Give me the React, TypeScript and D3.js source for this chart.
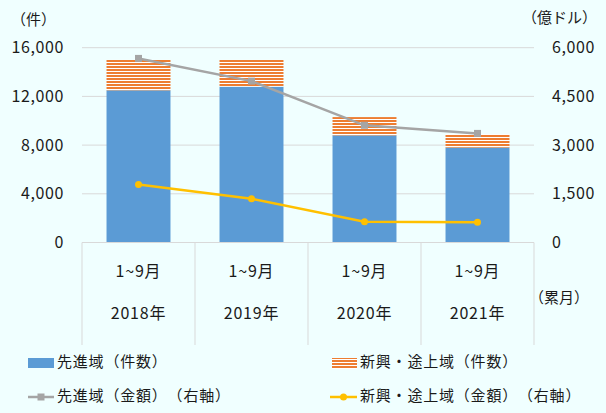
import React, { useEffect, useRef } from 'react';
import * as d3 from 'd3';

const categories = ['2018年', '2019年', '2020年', '2021年'];
const periodLabel = '1~9月';
const advancedCount = [12500, 12800, 8800, 7800];
const emergingCount = [2500, 2200, 1500, 1100];
const advancedAmount = [5670, 4970, 3610, 3360];
const emergingAmount = [1790, 1350, 640, 620];
const leftTicks = [0, 4000, 8000, 12000, 16000];
const rightTicks = [0, 1500, 3000, 4500, 6000];

const App: React.FC = () => {
  const svgRef = useRef<SVGSVGElement>(null);

  useEffect(() => {
    if (!svgRef.current) return;
    const svg = d3.select(svgRef.current);
    svg.selectAll('*').remove();

    const width = 606;
    const height = 413;
    const plot = { left: 82, right: 534, top: 47.7, bottom: 242.5 };
    const font = "'Noto Sans CJK JP', 'Noto Sans', sans-serif";
    const textColor = '#1a1a1a';
    const gridColor = '#d9d9d9';
    const blue = '#5b9bd5';
    const orange = '#ed7d31';
    const gray = '#a5a5a5';
    const yellow = '#ffc000';

    svg.append('rect').attr('width', width).attr('height', height).attr('fill', '#f0ffff');

    // striped fill for emerging markets
    const defs = svg.append('defs');
    const pat = defs.append('pattern')
      .attr('id', 'stripes')
      .attr('patternUnits', 'userSpaceOnUse')
      .attr('width', 6).attr('height', 3);
    pat.append('rect').attr('width', 6).attr('height', 3).attr('fill', '#ffffff');
    pat.append('rect').attr('width', 6).attr('height', 2).attr('fill', orange);

    const x = d3.scaleBand<string>().domain(categories).range([plot.left, plot.right]).paddingInner(0.434).paddingOuter(0.217);
    const xc = (c: string) => (x(c) || 0) + x.bandwidth() / 2;
    const yL = d3.scaleLinear().domain([0, 16000]).range([plot.bottom, plot.top]);
    const yR = d3.scaleLinear().domain([0, 6000]).range([plot.bottom, plot.top]);
    const fmt = d3.format(',');

    // gridlines
    svg.append('g').selectAll('line').data(leftTicks.slice(1)).enter().append('line')
      .attr('x1', plot.left).attr('x2', plot.right)
      .attr('y1', d => yL(d)).attr('y2', d => yL(d))
      .attr('stroke', gridColor).attr('stroke-width', 1);

    // left axis labels
    svg.append('g').selectAll('text').data(leftTicks).enter().append('text')
      .attr('x', 64).attr('y', d => yL(d)).attr('dy', '0.35em')
      .attr('text-anchor', 'end').attr('font-size', 16).attr('letter-spacing', 0.6)
      .attr('font-family', font).attr('fill', textColor)
      .text(d => fmt(d));
    svg.append('text').attr('x', 11).attr('y', 20).attr('dy', '0.35em')
      .attr('font-size', 15).attr('font-family', font).attr('fill', textColor).text('（件）');

    // right axis labels
    svg.append('g').selectAll('text').data(rightTicks).enter().append('text')
      .attr('x', 552).attr('y', d => yR(d)).attr('dy', '0.35em')
      .attr('text-anchor', 'start').attr('font-size', 16).attr('letter-spacing', 0.6)
      .attr('font-family', font).attr('fill', textColor)
      .text(d => fmt(d));
    svg.append('text').attr('x', 522).attr('y', 18).attr('dy', '0.35em')
      .attr('font-size', 15).attr('font-family', font).attr('fill', textColor).text('（億ドル）');

    // stacked bars
    const bars = svg.append('g');
    bars.selectAll('rect.adv').data(categories).enter().append('rect')
      .attr('class', 'adv')
      .attr('x', d => x(d) || 0).attr('width', x.bandwidth())
      .attr('y', (d, i) => yL(advancedCount[i]))
      .attr('height', (d, i) => yL(0) - yL(advancedCount[i]))
      .attr('fill', blue);
    bars.selectAll('rect.emg').data(categories).enter().append('rect')
      .attr('class', 'emg')
      .attr('x', d => x(d) || 0).attr('width', x.bandwidth())
      .attr('y', (d, i) => yL(advancedCount[i] + emergingCount[i]))
      .attr('height', (d, i) => yL(advancedCount[i]) - yL(advancedCount[i] + emergingCount[i]))
      .attr('fill', 'url(#stripes)');

    // category axis
    const axisBottom = 345;
    svg.append('line').attr('x1', plot.left).attr('x2', plot.right)
      .attr('y1', plot.bottom).attr('y2', plot.bottom).attr('stroke', gridColor);
    const step = (plot.right - plot.left) / categories.length;
    svg.append('g').selectAll('line').data(d3.range(categories.length + 1)).enter().append('line')
      .attr('x1', i => plot.left + i * step).attr('x2', i => plot.left + i * step)
      .attr('y1', plot.bottom).attr('y2', axisBottom)
      .attr('stroke', gridColor);
    const cat = svg.append('g').attr('font-family', font).attr('font-size', 16)
      .attr('letter-spacing', 0.8).attr('fill', textColor).attr('text-anchor', 'middle');
    cat.selectAll('text.p').data(categories).enter().append('text')
      .attr('class', 'p').attr('x', d => xc(d)).attr('y', 271).attr('dy', '0.35em').text(periodLabel);
    cat.selectAll('text.y').data(categories).enter().append('text')
      .attr('class', 'y').attr('x', d => xc(d)).attr('y', 313).attr('dy', '0.35em').text(d => d);
    svg.append('text').attr('x', 529).attr('y', 298).attr('dy', '0.35em')
      .attr('font-size', 15).attr('font-family', font).attr('fill', textColor).text('（累月）');

    // lines
    const lineGen = d3.line<number>().x((d, i) => xc(categories[i])).y(d => yR(d));
    svg.append('path').datum(advancedAmount).attr('d', lineGen)
      .attr('fill', 'none').attr('stroke', gray).attr('stroke-width', 2.5);
    svg.append('g').selectAll('rect').data(advancedAmount).enter().append('rect')
      .attr('x', (d, i) => xc(categories[i]) - 3.5).attr('y', d => yR(d) - 3.5)
      .attr('width', 7).attr('height', 7).attr('fill', gray);
    svg.append('path').datum(emergingAmount).attr('d', lineGen)
      .attr('fill', 'none').attr('stroke', yellow).attr('stroke-width', 2.5);
    svg.append('g').selectAll('circle').data(emergingAmount).enter().append('circle')
      .attr('cx', (d, i) => xc(categories[i])).attr('cy', d => yR(d))
      .attr('r', 3.5).attr('fill', yellow);

    // legend
    const lg = svg.append('g').attr('font-family', font).attr('font-size', 15)
      .attr('letter-spacing', 0.8).attr('fill', textColor);
    lg.append('rect').attr('x', 28).attr('y', 358).attr('width', 26).attr('height', 10).attr('fill', blue);
    lg.append('text').attr('x', 57).attr('y', 362).attr('dy', '0.35em').text('先進域（件数）');
    lg.append('rect').attr('x', 332).attr('y', 358).attr('width', 25).attr('height', 11).attr('fill', 'url(#stripes)');
    lg.append('text').attr('x', 360).attr('y', 362).attr('dy', '0.35em').text('新興・途上域（件数）');
    lg.append('line').attr('x1', 28).attr('x2', 54).attr('y1', 397).attr('y2', 397).attr('stroke', gray).attr('stroke-width', 2.5);
    lg.append('rect').attr('x', 37.5).attr('y', 393.5).attr('width', 7).attr('height', 7).attr('fill', gray);
    lg.append('text').attr('x', 57).attr('y', 396).attr('dy', '0.35em').text('先進域（金額）（右軸）');
    lg.append('line').attr('x1', 330).attr('x2', 357).attr('y1', 397).attr('y2', 397).attr('stroke', yellow).attr('stroke-width', 2.5);
    lg.append('circle').attr('cx', 343.5).attr('cy', 397).attr('r', 3.5).attr('fill', yellow);
    lg.append('text').attr('x', 360).attr('y', 396).attr('dy', '0.35em').text('新興・途上域（金額）（右軸）');
  }, []);

  return (
    <svg
      ref={svgRef}
      width={606}
      height={413}
      viewBox="0 0 606 413"
      style={{ position: 'absolute', left: 0, top: 0, display: 'block', textSpacingTrim: 'space-all' } as React.CSSProperties}
    />
  );
};

export default App;
